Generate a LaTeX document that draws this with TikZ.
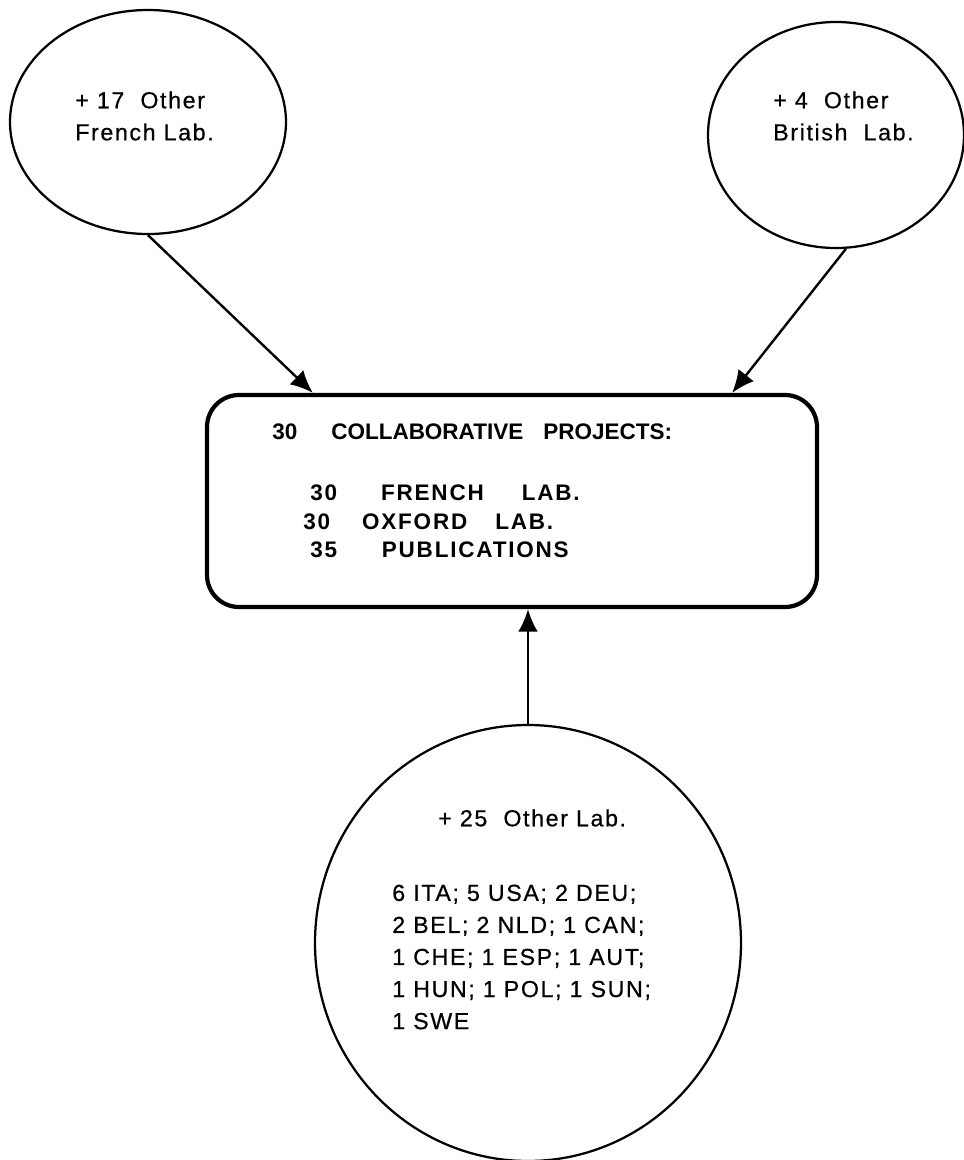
\documentclass[tikz,border=0pt]{standalone}
\usepackage{fontspec}
\setmainfont{Liberation Sans}
\newfontfamily\labfont[LetterSpace=7,FakeBold=0.6]{Liberation Sans}
\newfontfamily\projfont{Liberation Sans}
\newfontfamily\projwide[LetterSpace=8]{Liberation Sans}
\usetikzlibrary{arrows.meta,shapes.geometric}
\begin{document}
\begin{tikzpicture}[
  lab/.style={ellipse, draw, line width=1.6pt, inner sep=0pt},
  labtext/.style={inner sep=0pt, align=left, anchor=west, font=\labfont\fontsize{16.5}{22.8}\selectfont},
  projtext/.style={inner sep=0pt, anchor=base west, font=\projfont\bfseries\fontsize{16}{18}\selectfont},
  widetext/.style={projtext, font=\projwide\bfseries\fontsize{16}{18}\selectfont},
  feed/.style={-{Latex[length=16pt,width=14pt]}, line width=1.7pt}]
\useasboundingbox (0,0) rectangle (24.1,-29);

\node[lab, minimum width=6.9cm, minimum height=5.6cm] (french) at (3.7,-3.05) {};
\node[lab, minimum width=6.4cm, minimum height=5.65cm] (british) at (20.9,-3.375) {};
\node[lab, minimum width=10.65cm, minimum height=10.9cm] (others) at (13.2,-23.575) {};
\node[draw, rectangle, rounded corners=0.8cm, line width=3pt, minimum width=15.25cm, minimum height=5.3cm] (projects) at (12.8,-12.525) {};

\node[labtext] (frenchtxt) at (1.875,-2.9) {+ 17~~Other\\French Lab.};
\node[labtext] (britishtxt) at (19.325,-2.9) {+ 4~~Other\\British~~Lab.};
\node[labtext] (otherstitle) at (10.95,-20.45) {+ 25~~Other Lab.};
\node[labtext] (otherslist) at (9.8,-23.925) {6 ITA; 5 USA; 2 DEU;\\2 BEL; 2 NLD; 1 CAN;\\1 CHE; 1 ESP; 1 AUT;\\1 HUN; 1 POL; 1 SUN;\\1 SWE};

\node[projtext] (total) at (6.8,-10.99) {30\hspace{0.85cm}COLLABORATIVE\hspace{0.5cm}PROJECTS:};
\node[widetext] (flab) at (7.75,-12.51) {30\hspace{1.1cm}FRENCH\hspace{0.95cm}LAB.};
\node[widetext] (olab) at (7.575,-13.24) {30\hspace{0.8cm}OXFORD\hspace{0.7cm}LAB.};
\node[widetext] (pubs) at (7.75,-13.94) {35\hspace{1.12cm}PUBLICATIONS};

\draw[feed] (french.south) -- ([xshift=2.7cm]projects.north west);
\draw[feed] (british.-85) -- ([xshift=-2.175cm]projects.north east);
\draw[feed] (others.north) -- (others.north |- projects.south);

\end{tikzpicture}
\end{document}
